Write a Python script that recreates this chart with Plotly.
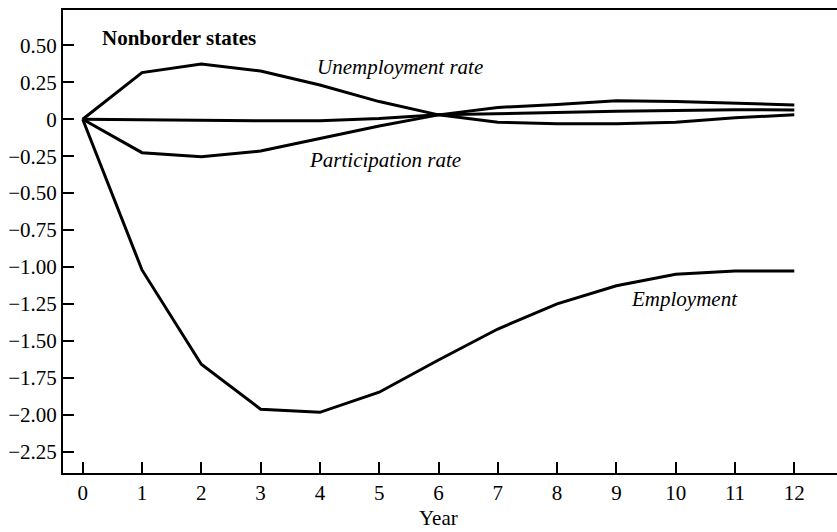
import plotly.graph_objects as go

years = list(range(13))
unemployment = [0, 0.316, 0.374, 0.327, 0.232, 0.12, 0.03, -0.02, -0.03, -0.03, -0.02, 0.01, 0.03]
labor_force = [0, -0.005, -0.005, -0.01, -0.01, 0.005, 0.03, 0.04, 0.045, 0.055, 0.06, 0.065, 0.063]
participation = [0, -0.226, -0.253, -0.215, -0.13, -0.045, 0.03, 0.08, 0.10, 0.125, 0.12, 0.11, 0.097]
employment = [0, -1.02, -1.659, -1.963, -1.984, -1.848, -1.63, -1.42, -1.25, -1.127, -1.05, -1.027, -1.027]

ytick_vals = [0.5, 0.25, 0, -0.25, -0.5, -0.75, -1.0, -1.25, -1.5, -1.75, -2.0, -2.25]
ytick_text = ["0.50", "0.25", "0", "\u22120.25", "\u22120.50", "\u22120.75", "\u22121.00",
              "\u22121.25", "\u22121.50", "\u22121.75", "\u22122.00", "\u22122.25"]

font = "Liberation Serif, Times New Roman, serif"

fig = go.Figure()
for series in [unemployment, labor_force, participation, employment]:
    fig.add_trace(go.Scatter(x=years, y=series, mode="lines",
                             line=dict(color="black", width=3), showlegend=False))

fig.update_layout(
    width=837, height=532,
    margin=dict(l=63, r=0, t=10, b=59),
    plot_bgcolor="white", paper_bgcolor="white",
    font=dict(family=font, size=21, color="black"),
)
fig.update_xaxes(range=[-0.332, 12.72], tickvals=years, ticks="inside", ticklen=11,
                 tickwidth=1.5, tickcolor="black", showline=True, linecolor="black",
                 linewidth=2, mirror=True, showgrid=False, zeroline=False)
fig.update_yaxes(range=[-2.395, 0.74], tickvals=ytick_vals, ticktext=ytick_text,
                 ticks="inside", ticklen=11, tickwidth=1.5, tickcolor="black",
                 showline=True, linecolor="black", linewidth=2, showgrid=False,
                 zeroline=False)

fig.add_annotation(x=0.29, y=0.55, text="<b>Nonborder states</b>", showarrow=False,
                   xanchor="left", yanchor="middle")
fig.add_annotation(x=3.92, y=0.356, text="<i>Unemployment rate</i>", showarrow=False,
                   xanchor="left", yanchor="middle")
fig.add_annotation(x=3.78, y=-0.276, text="<i>Participation rate</i>", showarrow=False,
                   xanchor="left", yanchor="middle")
fig.add_annotation(x=9.21, y=-1.217, text="<i>Employment</i>", showarrow=False,
                   xanchor="left", yanchor="middle")
# axis title sits below the tick labels, centred on year 6
fig.add_annotation(x=6, y=-0.0965, yref="paper", text="Year", showarrow=False,
                   xanchor="center", yanchor="middle")

# page body has a default margin; drop it so the figure fills the window
fig.write_html("out.html", config={"displayModeBar": False},
               post_script="document.body.style.margin='0';")
